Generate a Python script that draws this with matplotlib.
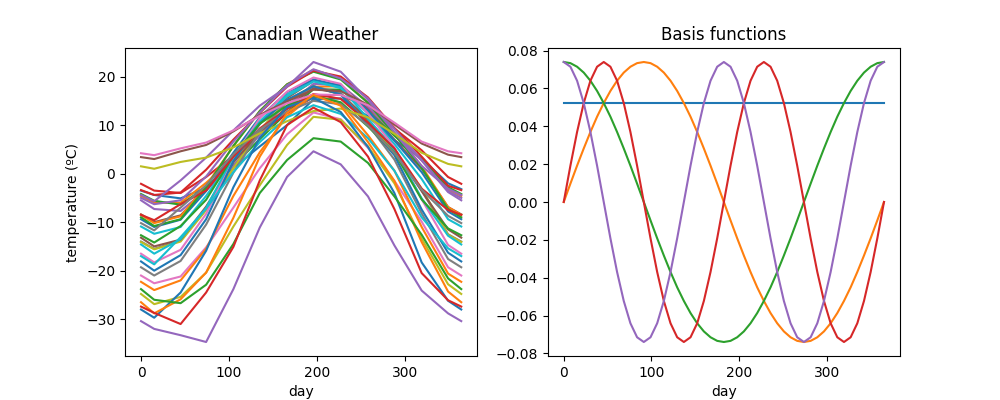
import matplotlib
matplotlib.use("Agg")
import matplotlib.pyplot as plt

# Sample days (approximate mid-month points plus the year ends)
days = [0, 15, 45, 74, 105, 135, 166, 196, 227, 258, 288, 319, 349, 364]

# Daily mean temperature (ºC) read at the sample days, one list per station
st_johns      = [-3.5, -4.4, -5.1, -2.9, 1.2, 5.6, 10.0, 15.3, 15.5, 11.8, 6.9, 3.1, -2.0, -3.2]
halifax       = [-4.6, -6.0, -6.0, -1.9, 3.1, 8.5, 13.6, 17.9, 18.0, 13.6, 8.2, 2.8, -3.3, -4.6]
sydney        = [-4.2, -5.6, -6.4, -2.8, 1.6, 7.1, 12.6, 17.4, 17.3, 13.0, 7.8, 3.0, -2.8, -4.2]
yarmouth      = [-2.1, -3.5, -4.0, -0.7, 3.7, 8.3, 12.4, 15.8, 16.3, 13.5, 9.3, 4.8, -0.7, -2.1]
charlottetown = [-5.5, -7.3, -7.7, -3.4, 1.6, 8.0, 13.9, 18.5, 18.2, 13.8, 8.3, 2.7, -3.8, -5.5]
fredericton   = [-8.4, -10.0, -8.6, -3.2, 3.5, 10.2, 15.6, 19.1, 18.2, 13.1, 7.0, 1.0, -6.9, -8.4]
schefferville = [-21.0, -22.6, -21.2, -15.2, -7.0, 1.1, 8.1, 12.6, 11.2, 5.3, -1.5, -9.9, -19.3, -21.0]
arvida        = [-14.0, -15.5, -13.8, -7.4, 1.1, 8.9, 15.0, 18.0, 16.3, 10.6, 4.3, -3.5, -12.5, -14.0]
bagottville   = [-14.1, -15.6, -14.0, -7.5, 1.1, 8.9, 15.1, 18.0, 16.3, 10.9, 4.6, -3.1, -12.6, -14.1]
quebec        = [-10.9, -12.4, -11.0, -4.6, 3.3, 10.7, 16.3, 19.1, 17.6, 12.4, 6.1, -1.1, -9.4, -10.9]
sherbrooke    = [-9.4, -11.0, -9.5, -3.6, 4.3, 11.6, 16.8, 19.4, 18.1, 13.0, 6.8, 0.3, -7.8, -9.4]
montreal      = [-8.5, -10.2, -8.8, -2.5, 5.7, 12.9, 18.4, 21.4, 19.6, 14.6, 8.4, 1.5, -6.9, -8.5]
ottawa        = [-9.0, -10.8, -9.4, -2.8, 5.7, 12.9, 18.4, 21.0, 19.4, 14.6, 8.1, 1.2, -7.3, -9.0]
toronto       = [-3.4, -4.4, -3.9, 0.8, 7.0, 12.5, 17.9, 21.2, 20.0, 15.7, 9.4, 3.5, -2.5, -3.4]
london        = [-5.0, -6.3, -5.5, -0.6, 6.6, 12.6, 18.2, 21.5, 19.6, 15.5, 9.2, 2.8, -3.6, -5.0]
thunder_bay   = [-13.2, -15.0, -13.6, -6.8, 2.3, 8.5, 13.6, 17.6, 16.5, 11.1, 5.1, -3.6, -11.5, -13.2]
winnipeg      = [-16.5, -18.3, -15.7, -8.3, 3.4, 11.4, 16.9, 19.8, 18.5, 12.4, 5.4, -5.3, -14.7, -16.5]
the_pas       = [-19.3, -21.0, -18.0, -10.5, 0.2, 8.6, 14.8, 18.0, 16.6, 10.1, 2.9, -8.2, -17.6, -19.3]
churchill     = [-24.8, -26.9, -25.4, -20.4, -10.9, -2.4, 5.9, 11.7, 11.1, 5.6, -2.0, -13.4, -22.8, -24.8]
regina        = [-14.6, -16.5, -13.5, -7.1, 3.5, 10.7, 15.9, 19.0, 17.8, 11.3, 4.9, -5.1, -12.8, -14.6]
pr_albert     = [-18.1, -20.0, -16.8, -9.4, 2.6, 10.3, 15.2, 18.0, 16.3, 10.1, 3.8, -7.4, -16.3, -18.1]
uranium_city  = [-22.3, -24.0, -22.0, -15.5, -4.6, 4.4, 11.8, 16.2, 14.6, 7.9, 0.6, -11.0, -20.6, -22.3]
edmonton      = [-12.7, -14.2, -10.8, -5.4, 3.7, 10.3, 14.0, 16.0, 14.7, 9.7, 4.3, -5.3, -11.3, -12.7]
calgary       = [-8.5, -9.6, -6.3, -3.5, 3.5, 9.3, 13.3, 16.4, 15.4, 10.5, 5.2, -3.1, -7.5, -8.5]
kamloops      = [-4.4, -5.7, -1.4, 3.3, 8.9, 14.0, 17.9, 23.0, 21.0, 15.2, 8.5, 1.6, -3.1, -4.4]
vancouver     = [3.4, 3.0, 4.6, 5.9, 8.7, 12.1, 14.9, 17.3, 17.0, 14.2, 10.1, 6.2, 3.9, 3.4]
victoria      = [4.2, 3.8, 5.2, 6.4, 8.9, 11.9, 14.5, 16.3, 16.2, 14.1, 10.5, 6.6, 4.6, 4.2]
pr_george     = [-10.2, -11.7, -7.0, -2.4, 4.0, 9.1, 12.8, 15.0, 14.3, 9.9, 4.2, -3.3, -8.7, -10.2]
pr_rupert     = [1.5, 1.0, 2.4, 3.3, 5.4, 8.3, 10.8, 12.9, 13.4, 11.6, 8.2, 4.3, 2.0, 1.5]
whitehorse    = [-17.0, -18.7, -13.1, -7.2, 0.3, 6.5, 11.6, 14.1, 12.3, 7.3, 0.6, -9.0, -15.4, -17.0]
dawson        = [-28.0, -29.7, -24.5, -15.9, -2.8, 7.4, 13.7, 15.6, 12.7, 5.5, -4.0, -18.3, -26.2, -28.0]
yellowknife   = [-26.5, -28.8, -25.9, -20.4, -9.1, 3.5, 12.5, 16.2, 14.0, 6.5, -1.5, -14.1, -24.3, -26.5]
iqaluit       = [-23.8, -26.0, -26.7, -22.9, -14.5, -4.0, 2.8, 7.3, 6.6, 2.2, -4.7, -12.6, -21.6, -23.8]
inuvik        = [-27.4, -28.7, -31.0, -24.5, -15.1, -1.4, 10.0, 13.6, 10.6, 3.5, -7.3, -20.5, -26.1, -27.4]
resolute      = [-30.4, -32.0, -33.3, -34.7, -23.8, -11.1, -0.7, 4.6, 1.9, -4.7, -14.8, -24.1, -28.8, -30.4]

stations = [st_johns, halifax, sydney, yarmouth, charlottetown, fredericton,
            schefferville, arvida, bagottville, quebec, sherbrooke, montreal,
            ottawa, toronto, london, thunder_bay, winnipeg, the_pas, churchill,
            regina, pr_albert, uranium_city, edmonton, calgary, kamloops,
            vancouver, victoria, pr_george, pr_rupert, whitehorse, dawson,
            yellowknife, iqaluit, inuvik, resolute]

basis_days = [0, 7.6, 15.2, 22.8, 30.4, 38.0, 45.6, 53.2, 60.8, 68.4, 76.0, 83.6,
              91.25, 98.9, 106.5, 114.1, 121.7, 129.3, 136.9, 144.5, 152.1, 159.7,
              167.3, 174.9, 182.5, 190.1, 197.7, 205.3, 212.9, 220.5, 228.1, 235.7,
              243.3, 250.9, 258.5, 266.1, 273.75, 281.4, 289.0, 296.6, 304.2, 311.8,
              319.4, 327.0, 334.6, 342.2, 349.8, 357.4, 365]
const_days = [0, 365]
basis_const = [0.0523, 0.0523]
basis_sin1 = [0, 0.0097, 0.0192, 0.0283, 0.0370, 0.0451, 0.0523, 0.0587, 0.0641, 0.0684, 0.0715, 0.0734,
              0.0740, 0.0734, 0.0715, 0.0684, 0.0641, 0.0587, 0.0523, 0.0451, 0.0370, 0.0283, 0.0192, 0.0097,
              0, -0.0097, -0.0192, -0.0283, -0.0370, -0.0451, -0.0523, -0.0587, -0.0641, -0.0684, -0.0715, -0.0734,
              -0.0740, -0.0734, -0.0715, -0.0684, -0.0641, -0.0587, -0.0523, -0.0451, -0.0370, -0.0283, -0.0192, -0.0097,
              0]
basis_cos1 = [0.0740, 0.0734, 0.0715, 0.0684, 0.0641, 0.0587, 0.0523, 0.0451, 0.0370, 0.0283, 0.0192, 0.0097,
              0, -0.0097, -0.0192, -0.0283, -0.0370, -0.0451, -0.0523, -0.0587, -0.0641, -0.0684, -0.0715, -0.0734,
              -0.0740, -0.0734, -0.0715, -0.0684, -0.0641, -0.0587, -0.0523, -0.0451, -0.0370, -0.0283, -0.0192, -0.0097,
              0, 0.0097, 0.0192, 0.0283, 0.0370, 0.0451, 0.0523, 0.0587, 0.0641, 0.0684, 0.0715, 0.0734,
              0.0740]
basis_sin2 = [0, 0.0192, 0.0370, 0.0523, 0.0641, 0.0715, 0.0740, 0.0715, 0.0641, 0.0523, 0.0370, 0.0192,
              0, -0.0192, -0.0370, -0.0523, -0.0641, -0.0715, -0.0740, -0.0715, -0.0641, -0.0523, -0.0370, -0.0192,
              0, 0.0192, 0.0370, 0.0523, 0.0641, 0.0715, 0.0740, 0.0715, 0.0641, 0.0523, 0.0370, 0.0192,
              0, -0.0192, -0.0370, -0.0523, -0.0641, -0.0715, -0.0740, -0.0715, -0.0641, -0.0523, -0.0370, -0.0192,
              0]
basis_cos2 = [0.0740, 0.0715, 0.0641, 0.0523, 0.0370, 0.0192, 0, -0.0192, -0.0370, -0.0523, -0.0641, -0.0715,
              -0.0740, -0.0715, -0.0641, -0.0523, -0.0370, -0.0192, 0, 0.0192, 0.0370, 0.0523, 0.0641, 0.0715,
              0.0740, 0.0715, 0.0641, 0.0523, 0.0370, 0.0192, 0, -0.0192, -0.0370, -0.0523, -0.0641, -0.0715,
              -0.0740, -0.0715, -0.0641, -0.0523, -0.0370, -0.0192, 0, 0.0192, 0.0370, 0.0523, 0.0641, 0.0715,
              0.0740]

fig, (ax1, ax2) = plt.subplots(1, 2, figsize=(10, 4), dpi=100)

for series in stations:
    ax1.plot(days, series)
ax1.set_title("Canadian Weather")
ax1.set_xlabel("day")
ax1.set_ylabel("temperature (ºC)")

ax2.plot(const_days, basis_const)
ax2.plot(basis_days, basis_sin1)
ax2.plot(basis_days, basis_cos1)
ax2.plot(basis_days, basis_sin2)
ax2.plot(basis_days, basis_cos2)
ax2.set_title("Basis functions")
ax2.set_xlabel("day")

fig.savefig("out.png", dpi=100)
